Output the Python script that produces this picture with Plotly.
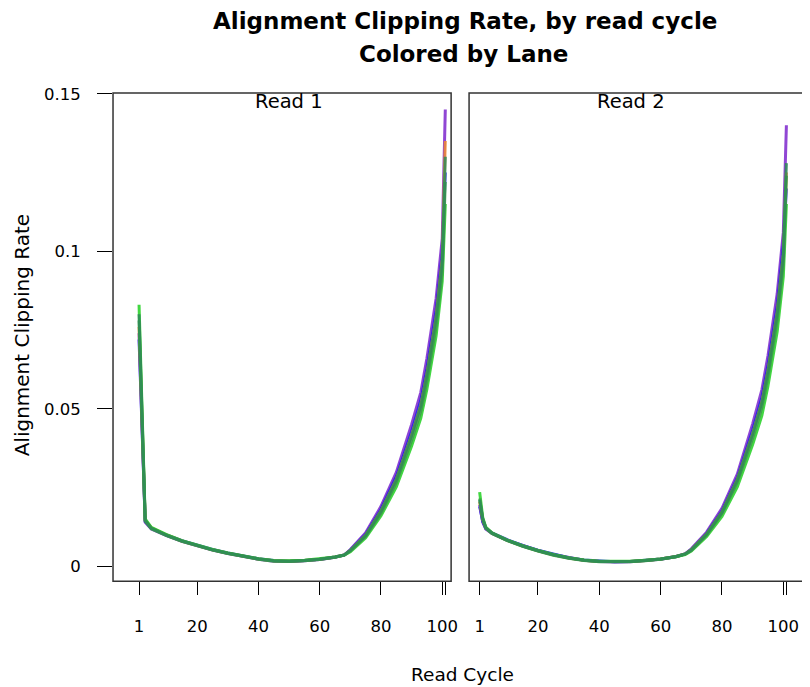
import plotly.graph_objects as go

# ---------------- data ----------------
cycles = [1, 2, 3, 5, 10, 15, 20, 25, 30, 35, 40, 45, 50, 55, 60, 65, 68, 70,
          75, 80, 85, 90, 93, 95, 98, 100, 101]

lane_names = ["Lane 1", "Lane 2", "Lane 3", "Lane 4", "Lane 5", "Lane 6"]
lane_colors = ["#7D26CD", "#2424E8", "#F08A30", "#22D022", "#3C9E48", "#2E8B57"]

read1 = {
    "Lane 1": [0.074, 0.042, 0.0140, 0.0118, 0.0097, 0.0079, 0.0064, 0.0051, 0.0040, 0.0030, 0.0022, 0.0016, 0.0015, 0.0017,
               0.0021, 0.0028, 0.0035, 0.0053, 0.0106, 0.0190, 0.0298, 0.0450, 0.0552, 0.0660, 0.0850, 0.1040, 0.1450],
    "Lane 2": [0.072, 0.041, 0.0142, 0.0121, 0.0099, 0.0081, 0.0066, 0.0053, 0.0042, 0.0032, 0.0024, 0.0018, 0.0016, 0.0018,
               0.0022, 0.0029, 0.0036, 0.0051, 0.0101, 0.0181, 0.0284, 0.0428, 0.0526, 0.0628, 0.0812, 0.0995, 0.1250],
    "Lane 3": [0.076, 0.043, 0.0146, 0.0122, 0.0099, 0.0080, 0.0065, 0.0052, 0.0041, 0.0031, 0.0023, 0.0017, 0.0016, 0.0018,
               0.0022, 0.0029, 0.0036, 0.0050, 0.0098, 0.0175, 0.0275, 0.0415, 0.0510, 0.0610, 0.0790, 0.0975, 0.1350],
    "Lane 4": [0.083, 0.047, 0.0150, 0.0123, 0.0100, 0.0081, 0.0066, 0.0053, 0.0042, 0.0032, 0.0024, 0.0018, 0.0017, 0.0019,
               0.0023, 0.0029, 0.0035, 0.0046, 0.0090, 0.0160, 0.0252, 0.0382, 0.0470, 0.0563, 0.0732, 0.0905, 0.1150],
    "Lane 5": [0.078, 0.044, 0.0144, 0.0119, 0.0097, 0.0079, 0.0064, 0.0051, 0.0040, 0.0030, 0.0022, 0.0016, 0.0015, 0.0017,
               0.0021, 0.0028, 0.0035, 0.0049, 0.0095, 0.0168, 0.0265, 0.0400, 0.0492, 0.0588, 0.0762, 0.0935, 0.1220],
    "Lane 6": [0.080, 0.045, 0.0145, 0.0120, 0.0098, 0.0080, 0.0065, 0.0052, 0.0041, 0.0031, 0.0023, 0.0017, 0.0016, 0.0018,
               0.0022, 0.0029, 0.0036, 0.0050, 0.0098, 0.0175, 0.0275, 0.0415, 0.0510, 0.0610, 0.0790, 0.0970, 0.1300],
}

read2 = {
    "Lane 1": [0.0195, 0.0140, 0.0118, 0.0104, 0.0082, 0.0065, 0.0050, 0.0037, 0.0027, 0.0019, 0.0015, 0.0013, 0.0014, 0.0017,
               0.0022, 0.0030, 0.0039, 0.0055, 0.0108, 0.0184, 0.0292, 0.0452, 0.0560, 0.0668, 0.0865, 0.1060, 0.1400],
    "Lane 2": [0.0190, 0.0142, 0.0120, 0.0106, 0.0084, 0.0066, 0.0051, 0.0038, 0.0027, 0.0020, 0.0016, 0.0014, 0.0015, 0.0018,
               0.0023, 0.0031, 0.0039, 0.0053, 0.0104, 0.0176, 0.0281, 0.0433, 0.0536, 0.0639, 0.0829, 0.1020, 0.1200],
    "Lane 3": [0.0205, 0.0148, 0.0122, 0.0105, 0.0082, 0.0064, 0.0049, 0.0036, 0.0026, 0.0019, 0.0015, 0.0014, 0.0015, 0.0018,
               0.0023, 0.0031, 0.0039, 0.0052, 0.0102, 0.0172, 0.0275, 0.0420, 0.0520, 0.0620, 0.0805, 0.0990, 0.1250],
    "Lane 4": [0.0235, 0.0155, 0.0124, 0.0106, 0.0083, 0.0065, 0.0050, 0.0037, 0.0027, 0.0020, 0.0016, 0.0015, 0.0016, 0.0019,
               0.0023, 0.0030, 0.0037, 0.0048, 0.0094, 0.0158, 0.0252, 0.0386, 0.0478, 0.0572, 0.0745, 0.0920, 0.1150],
    "Lane 5": [0.0215, 0.0150, 0.0121, 0.0104, 0.0081, 0.0063, 0.0048, 0.0035, 0.0025, 0.0018, 0.0014, 0.0013, 0.0014, 0.0017,
               0.0022, 0.0030, 0.0038, 0.0050, 0.0099, 0.0167, 0.0267, 0.0407, 0.0504, 0.0601, 0.0781, 0.0960, 0.1240],
    "Lane 6": [0.0210, 0.0150, 0.0122, 0.0105, 0.0082, 0.0064, 0.0049, 0.0036, 0.0026, 0.0019, 0.0015, 0.0014, 0.0015, 0.0018,
               0.0023, 0.0031, 0.0039, 0.0052, 0.0102, 0.0172, 0.0275, 0.0420, 0.0520, 0.0620, 0.0805, 0.0990, 0.1280],
}

x_tickvals = [1, 20, 40, 60, 80, 100, 101]
x_ticktext = ["1", "20", "40", "60", "80", "100", ""]
y_tickvals = [0, 0.05, 0.1, 0.15]
y_ticktext = ["0", "0.05", "0.1", "0.15"]

title_line1 = "Alignment Clipping Rate, by read cycle"
title_line2 = "Colored by Lane"
panel_titles = ["Read 1", "Read 2"]
x_title = "Read Cycle"
y_title = "Alignment Clipping Rate"

# ---------------- figure ----------------
W, H = 810, 687
FONT = "DejaVu Sans"
# measured page mapping: observed = scale * figure_px + offset
SX, OXo = 0.994, 7.7
SY, OYo = 0.9835, 17.5

def fx(X):  # target window px -> figure px
    return (X - OXo) / SX

def fy(Y):
    return (Y - OYo) / SY

def px(X):
    return fx(X) / W

def py(Y):
    return 1 - fy(Y) / H

fig = go.Figure()
for xa, ya, data in [("x", "y", read1), ("x2", "y2", read2)]:
    for name, col in zip(lane_names, lane_colors):
        fig.add_trace(go.Scatter(
            x=cycles, y=data[name], mode="lines", name=name,
            line=dict(color=col, width=3), opacity=0.85,
            xaxis=xa, yaxis=ya, showlegend=False, hoverinfo="skip"))

# panel geometry in target-window pixels
L1, R1 = 113, 452
L2, R2 = 470, 810
TOP, BOT = 94, 580

tickfont = dict(family=FONT, size=16.5, color="black")
common_x = dict(showgrid=False, zeroline=False, showline=False,
                tickvals=x_tickvals, ticktext=x_ticktext,
                ticks="outside", ticklen=13, tickwidth=1, tickcolor="black",
                tickfont=tickfont, ticklabelstandoff=17)
common_y = dict(showgrid=False, zeroline=False, showline=False,
                range=[-0.00479, 0.1503])

fig.update_layout(
    width=W, height=H, autosize=False,
    margin=dict(l=0, r=0, t=0, b=0),
    paper_bgcolor="white", plot_bgcolor="white",
    xaxis=dict(domain=[px(L1), px(R1)], range=[-7.5, 102.9], anchor="y", **common_x),
    xaxis2=dict(domain=[px(L2), px(R2)], range=[-2.45, 108.1], anchor="y2", **common_x),
    yaxis=dict(domain=[py(BOT), py(TOP)], anchor="x",
               tickvals=y_tickvals, ticktext=y_ticktext,
               ticks="outside", ticklen=15, tickwidth=1, tickcolor="black",
               tickfont=tickfont, ticklabelstandoff=13, **common_y),
    yaxis2=dict(domain=[py(BOT), py(TOP)], anchor="x2", showticklabels=False,
                ticks="", **common_y),
    showlegend=False,
)

# panel frames
for l, r in [(L1, R1), (L2, R2 + 4)]:
    fig.add_shape(type="rect", xref="paper", yref="paper",
                  x0=px(l), x1=px(r), y0=py(BOT), y1=py(TOP),
                  line=dict(color="#333333", width=1.5), layer="above")

ann = []
ann.append(dict(text="<b>" + title_line1 + "</b>", x=px(466), y=py(22), xref="paper", yref="paper",
                showarrow=False, xanchor="center", yanchor="middle",
                font=dict(family=FONT, size=23, color="black")))
ann.append(dict(text="<b>" + title_line2 + "</b>", x=px(464), y=py(55), xref="paper", yref="paper",
                showarrow=False, xanchor="center", yanchor="middle",
                font=dict(family=FONT, size=23, color="black")))
for t, cx in zip(panel_titles, [289, 632]):
    ann.append(dict(text=t, x=px(cx), y=py(103), xref="paper", yref="paper",
                    showarrow=False, xanchor="center", yanchor="middle",
                    font=dict(family=FONT, size=19.5, color="black")))
ann.append(dict(text=x_title, x=px(463), y=py(673), xref="paper", yref="paper",
                showarrow=False, xanchor="center", yanchor="middle",
                font=dict(family=FONT, size=18.5, color="black")))
ann.append(dict(text=y_title, x=px(22), y=py(335), xref="paper", yref="paper",
                showarrow=False, xanchor="center", yanchor="middle", textangle=-90,
                font=dict(family=FONT, size=20, color="black")))
fig.update_layout(annotations=ann)

fig.write_html("out.html")
